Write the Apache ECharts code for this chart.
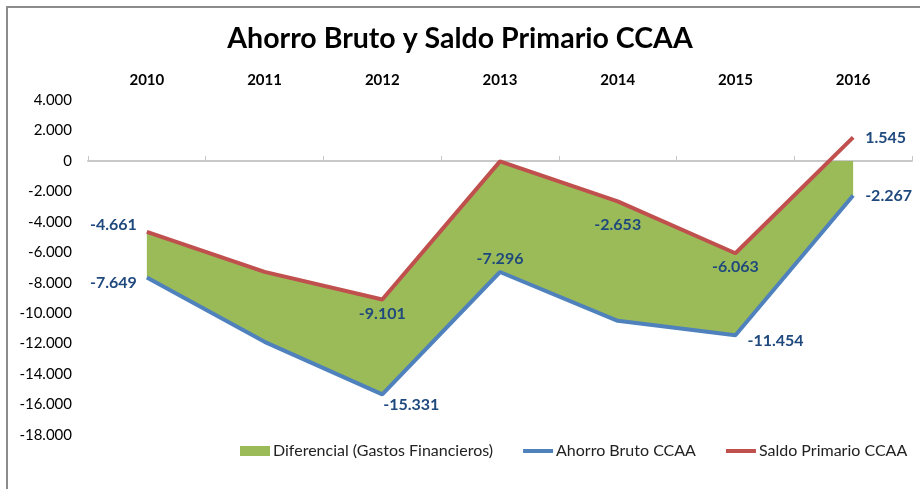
<!DOCTYPE html>
<html>
<head>
<meta charset="utf-8">
<script src="https://cdn.jsdelivr.net/npm/echarts@6/dist/echarts.min.js"></script>
<style>
  html, body { margin: 0; padding: 0; background: #fff; }
  #main { width: 920px; height: 489px; }
</style>
</head>
<body>
<div id="main"></div>
<script>
// datos
var years = ['2010', '2011', '2012', '2013', '2014', '2015', '2016']
var ahorroBruto = [-7649, -11880, -15331, -7296, -10500, -11454, -2267] // Ahorro Bruto CCAA
var saldoPrimario = [-4661, -7290, -9101, -30, -2653, -6063, 1545] // Saldo Primario CCAA
var yTicks = { min: -18000, max: 4000, step: 2000 }

var FONT = 'Lato'
var LABEL_COLOR = '#1F497D'
var LINE_ICON = 'path://M0,0 L30,0 L30,4 L0,4 Z'

// donde va cada etiqueta (null = sin etiqueta)
var bluePos = [
  { position: 'left', distance: 10, offset: [0, 5] },
  null,
  { position: 'bottom', distance: 2, offset: [29, 0] },
  { position: 'top', distance: 5 },
  null,
  { position: 'right', distance: 12, offset: [0, 6] },
  { position: 'right', distance: 12 }
]
var redPos = [
  { position: 'left', distance: 10, offset: [0, -7] },
  null,
  { position: 'bottom', distance: 6 },
  null,
  { position: 'bottom', distance: 16 },
  { position: 'bottom', distance: 6 },
  { position: 'right', distance: 12 }
]

function fmt(v) {
  var s = Math.abs(v).toString().replace(/\B(?=(\d{3})+(?!\d))/g, '.')
  return (v < 0 ? '-' : '') + s
}

function withLabels(values, pos) {
  return values.map(function(v, i) {
    var p = pos[i]
    if (!p) return { value: v, label: { show: false } }
    return {
      value: v,
      label: Object.assign({
        show: true,
        color: LABEL_COLOR,
        fontFamily: FONT,
        fontWeight: 'bold',
        fontSize: 16,
        formatter: function(o) { return fmt(o.value) }
      }, p)
    }
  })
}

// zona verde entre las dos lineas, recortada en 0
function renderDiff(params, api) {
  if (params.dataIndex !== 0) return null
  var n = years.length
  var top = []
  for (var i = 0; i < n; i++) {
    var r = saldoPrimario[i]
    top.push(api.coord([i, Math.min(r, 0)]))
    if (i < n - 1) {
      var r2 = saldoPrimario[i + 1]
      if ((r < 0 && r2 > 0) || (r > 0 && r2 < 0)) {
        var t = r / (r - r2)
        var a = api.coord([i, r])
        var b = api.coord([i + 1, r2])
        top.push([a[0] + t * (b[0] - a[0]), api.coord([i, 0])[1]])
      }
    }
  }
  var bottom = []
  for (var j = n - 1; j >= 0; j--) {
    bottom.push(api.coord([j, ahorroBruto[j]]))
  }
  return {
    type: 'polygon',
    shape: { points: top.concat(bottom) },
    style: { fill: '#9BBB59' }
  }
}

var chart = echarts.init(document.getElementById('main'))
var option = {
  animation: false,
  title: {
    text: 'Ahorro Bruto y Saldo Primario CCAA',
    left: 'center',
    top: 19,
    textStyle: { fontFamily: FONT, fontWeight: 'bold', fontSize: 28.5, color: '#000' }
  },
  graphic: [
    {
      type: 'polyline',
      shape: { points: [[7, 489], [7, 7], [920, 7]] },
      style: { stroke: '#8C8C8C', lineWidth: 2, fill: null },
      silent: true
    }
  ],
  legend: {
    left: 235,
    top: 438,
    itemGap: 30,
    itemWidth: 30,
    itemHeight: 10,
    textStyle: { fontFamily: FONT, fontSize: 16, color: '#222', padding: [0, 0, 0, -2] },
    data: [
      { name: 'Diferencial (Gastos Financieros)', icon: 'rect' },
      { name: 'Ahorro Bruto CCAA', icon: LINE_ICON },
      { name: 'Saldo Primario CCAA', icon: LINE_ICON }
    ]
  },
  grid: { left: 88, right: 8, top: 100, bottom: 54 },
  xAxis: [
    {
      type: 'category',
      data: years,
      boundaryGap: true,
      axisLine: { onZero: true, lineStyle: { color: '#C8C8C8', width: 2 } },
      axisTick: { show: true, inside: true, length: 5, lineStyle: { color: '#C8C8C8', width: 1 } },
      axisLabel: { show: false }
    },
    {
      type: 'category',
      data: years,
      position: 'top',
      boundaryGap: true,
      axisLine: { show: false },
      axisTick: { show: false },
      axisLabel: { fontFamily: FONT, fontWeight: 'bold', fontSize: 15, color: '#000', margin: 12 }
    }
  ],
  yAxis: {
    type: 'value',
    min: yTicks.min,
    max: yTicks.max,
    interval: yTicks.step,
    axisLine: { show: false },
    axisTick: { show: false },
    splitLine: { show: false },
    axisLabel: { fontFamily: FONT, fontSize: 15, color: '#000', margin: 16, formatter: fmt }
  },
  series: [
    {
      name: 'Diferencial (Gastos Financieros)',
      type: 'custom',
      renderItem: renderDiff,
      itemStyle: { color: '#9BBB59' },
      data: years.map(function(y, i) { return [i, ahorroBruto[i], saldoPrimario[i]] }),
      encode: { x: 0, y: [1, 2] },
      silent: true,
      z: 1
    },
    {
      name: 'Ahorro Bruto CCAA',
      type: 'line',
      symbol: 'circle',
      symbolSize: 0,
      showSymbol: true,
      lineStyle: { color: '#4F81BD', width: 4 },
      itemStyle: { color: '#4F81BD' },
      data: withLabels(ahorroBruto, bluePos),
      z: 3
    },
    {
      name: 'Saldo Primario CCAA',
      type: 'line',
      symbol: 'circle',
      symbolSize: 0,
      showSymbol: true,
      lineStyle: { color: '#C0504D', width: 4 },
      itemStyle: { color: '#C0504D' },
      data: withLabels(saldoPrimario, redPos),
      z: 4
    }
  ]
}
chart.setOption(option)
</script>
</body>
</html>
